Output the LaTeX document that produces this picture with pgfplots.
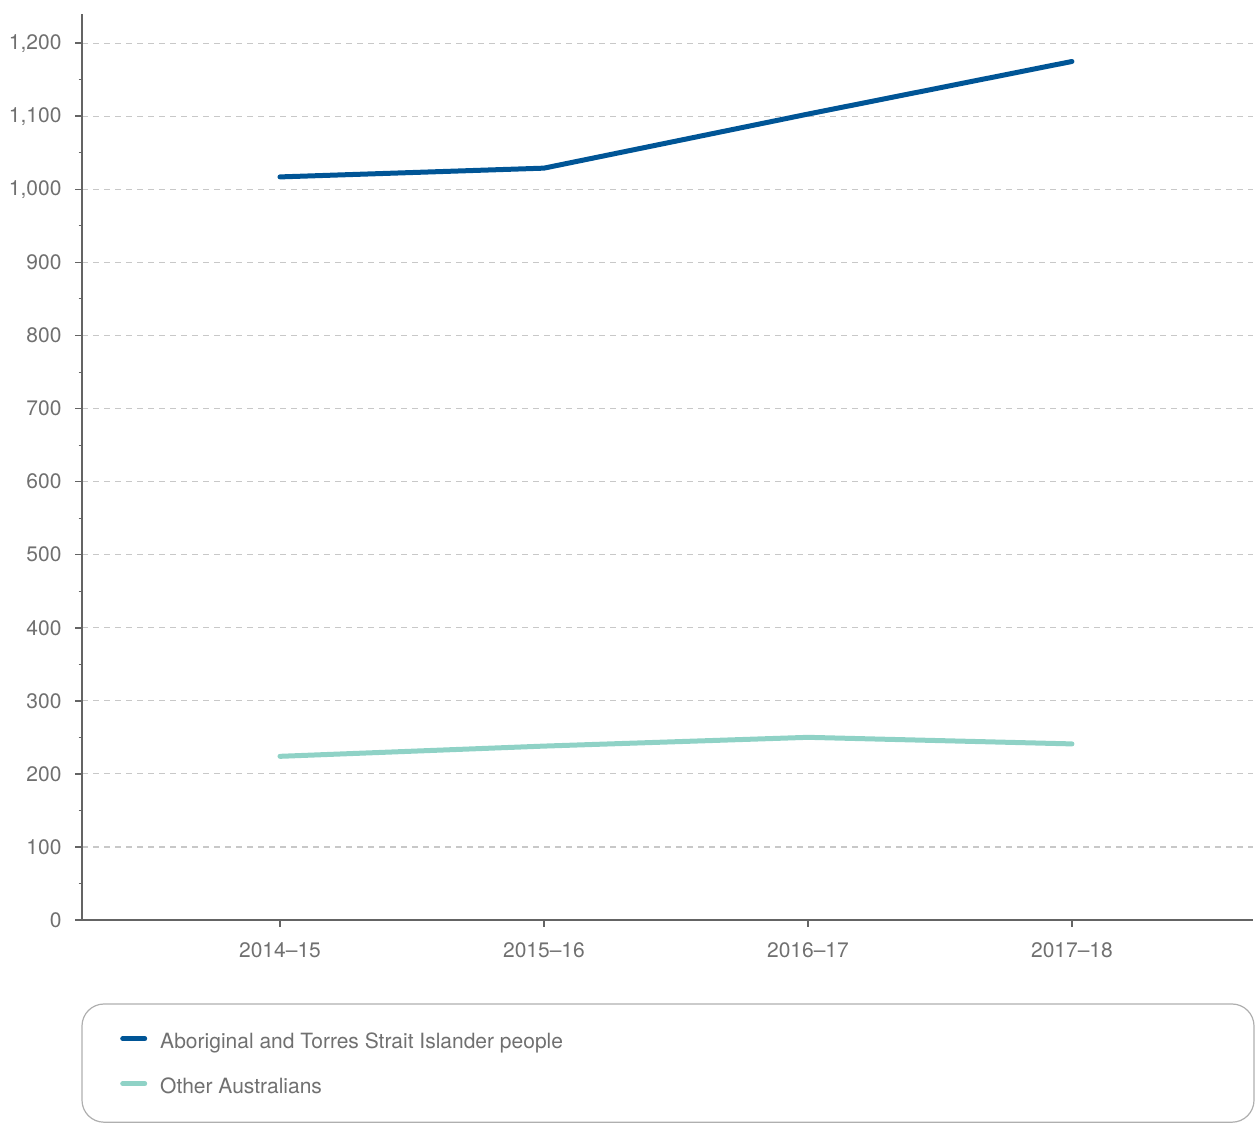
\documentclass[border=0pt]{standalone}
\usepackage{fontspec}
\setmainfont{TeX Gyre Heros}
\usepackage{pgfplots}
\pgfplotsset{compat=1.18}

\definecolor{seriesblue}{RGB}{0,85,150}
\definecolor{seriesteal}{RGB}{143,210,198}
\definecolor{axisgray}{RGB}{100,100,100}
\definecolor{labelgray}{RGB}{112,112,112}
\definecolor{gridgray}{RGB}{200,200,200}
\definecolor{framegray}{RGB}{175,175,175}

\begin{document}
\begin{tikzpicture}[x=1bp,y=1bp]
\useasboundingbox (0,0) rectangle (1255,1123);
% legend frame
\draw[framegray, line width=1.2bp, rounded corners=22bp] (82,0.8) rectangle (1254,119);
\begin{axis}[
  at={(82bp,203bp)}, anchor=south west,
  scale only axis, width=1171bp, height=906bp,
  xmin=-0.75, xmax=3.686, ymin=0, ymax=1240,
  axis lines*=left,
  axis line style={axisgray, line width=2bp},
  xtick={0,1,2,3},
  xticklabels={2014–15,2015–16,2016–17,2017–18},
  ytick={0,100,...,1200},
  minor y tick num=1,
  tick align=outside,
  major tick length=7bp, minor tick length=3.5bp,
  tick style={axisgray, line width=1.6bp},
  minor tick style={axisgray, line width=1bp},
  ymajorgrids,
  grid style={gridgray, line width=1.2bp, dash pattern=on 6bp off 5bp},
  tick label style={font=\fontsize{21bp}{25bp}\selectfont, text=labelgray},
  yticklabel style={xshift=-10bp},
  xticklabel style={yshift=-12bp},
  /pgf/number format/.cd, 1000 sep={,}, assume math mode=true,
  /pgfplots/.cd,
  legend cell align=left,
  legend style={at={(axis description cs:0.0299,-0.1242)}, anchor=north west,
    draw=none, fill=none, font=\fontsize{21bp}{25bp}\selectfont, text=labelgray,
    nodes={inner sep=0pt, text height=14bp, text depth=4bp},
    row sep=27bp, column sep=13bp},
  legend image code/.code={\draw[#1] (2.5bp,5bp) -- (24.5bp,5bp);},
]
\addplot[seriesblue, line width=5bp, line cap=round, line join=round] coordinates {
  (0,1017) (1,1029) (2,1103) (3,1175)
};
\addlegendentry{Aboriginal and Torres Strait Islander people}
\addplot[seriesteal, line width=5bp, line cap=round, line join=round] coordinates {
  (0,224) (1,238) (2,250) (3,241)
};
\addlegendentry{Other Australians}
\end{axis}
\end{tikzpicture}
\end{document}
